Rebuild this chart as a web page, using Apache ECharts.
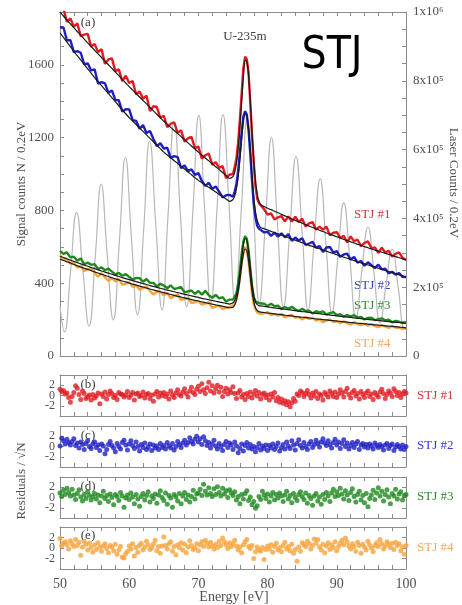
<!DOCTYPE html>
<html><head><meta charset="utf-8">
<script src="https://cdn.jsdelivr.net/npm/echarts@6/dist/echarts.min.js"></script>
<style>html,body{margin:0;padding:0;background:#fff}#c{width:462px;height:605px}</style>
</head><body><div id="c"></div>
<script>
// ---------- DATA ----------
function range(a,b,s){const r=[];for(let i=0;a+i*s<=b+1e-9;i++)r.push(+(a+i*s).toFixed(3));return r;}
// energy grid of the signal spectra (eV): 0.5 eV steps, 0.25 eV over the peak
const energy = range(50,74.5,0.5).concat(range(75,79,0.25), range(79.5,100,0.5));
// energy grid of the residual points (eV)
const residualEnergy = range(50,100,0.25);

// STJ #1 (red) measured counts and fit
const stj1Data = [1905,1908,1836,1855,1809,1828,1757,1766,1770,1700,1715,1670,1685,1605,1630,1635,1565,1575,1510,1540,1500,1511,1437,1453,1414,1430,1346,1372,1368,1309,1320,1258,1276,1284,1227,1240,1178,1196,1204,1142,1150,1084,1103,1112,1051,1065,1034,1043,977,996,
 1000,1040,1085,1175,1300,1440,1580,1645,1630,1555,1390,1215,1060,935,865,840,845,
 806,777,784,750,762,768,740,767,738,765,737,754,712,729,736,694,711,694,711,664,677,680,648,661,624,657,631,639,603,621,630,593,597,566,595,569,578,547,561,570,539,528];
const stj1Fit = [1890,1868,1846,1825,1804,1783,1762,1741,1720,1700,1680,1660,1640,1620,1600,1580,1560,1540,1520,1500,1480,1461,1442,1423,1404,1385,1366,1347,1328,1309,1290,1273,1256,1239,1222,1205,1188,1171,1154,1137,1120,1104,1088,1072,1056,1040,1024,1008,992,976,
 985,1010,1060,1140,1260,1400,1540,1625,1620,1540,1400,1230,1080,960,890,850,832,
 821,812,804,795,787,778,770,762,753,745,737,729,722,714,706,699,691,684,676,669,662,655,648,641,634,627,621,614,608,601,595,588,582,576,570,564,558,552,546,540,534,528];

// STJ #2 (blue)
const stj2Data = [1806,1805,1735,1735,1670,1675,1666,1602,1608,1569,1575,1497,1505,1498,1446,1459,1407,1405,1343,1356,1355,1296,1292,1248,1269,1225,1236,1192,1153,1169,1140,1144,1089,1098,1093,1032,1047,1016,1026,995,1005,962,934,952,919,931,903,871,883,885,
 875,905,945,1020,1120,1230,1315,1345,1325,1240,1110,965,840,760,715,700,690,
 679,682,660,678,656,674,652,670,633,651,634,647,610,618,627,595,604,572,596,599,568,576,545,558,562,530,544,513,522,496,515,499,483,502,476,480,454,463,447,456,435,434];
const stj2Fit = [1776,1750,1725,1700,1675,1650,1626,1602,1578,1554,1530,1507,1485,1463,1441,1419,1397,1375,1353,1331,1310,1291,1272,1253,1234,1215,1196,1177,1158,1139,1120,1104,1089,1073,1058,1042,1027,1011,996,980,965,952,939,927,914,901,888,876,863,850,
 860,880,920,985,1080,1190,1290,1330,1320,1250,1130,990,870,790,745,720,706,
 699,692,685,678,671,664,657,650,643,636,629,622,615,608,602,595,589,582,576,569,563,556,550,543,537,530,524,518,512,506,500,494,488,482,476,470,464,458,452,446,440,434];

// STJ #3 (green)
const stj3Data = [578,561,569,542,545,523,536,504,513,501,505,478,487,471,480,464,448,457,441,450,435,419,429,428,408,423,402,402,382,397,387,372,388,368,373,379,349,355,360,341,357,337,358,334,320,336,317,323,299,310,
 310,318,345,400,475,560,630,658,645,580,480,385,325,300,295,290,285,
 287,275,287,274,277,259,269,259,270,257,247,259,247,249,234,246,238,245,229,235,241,225,230,216,224,218,224,211,215,201,209,211,197,203,207,195,199,185,193,188,182,182];
const stj3Fit = [548,541,534,527,520,513,506,499,493,486,480,473,467,461,455,449,443,437,431,425,420,414,409,403,398,393,387,382,377,372,367,362,358,353,348,344,339,335,330,326,322,317,313,309,305,301,297,293,289,285,
 292,305,335,385,455,540,610,645,635,575,485,395,330,295,282,277,275,
 272,270,267,264,262,259,257,254,252,249,247,244,242,239,237,234,232,230,227,225,223,220,218,216,214,212,209,207,205,203,201,199,197,195,193,191,189,187,185,184,182,180];

// STJ #4 (orange)
const stj4Data = [553,530,533,506,513,486,494,467,476,479,457,436,454,433,412,430,409,423,392,397,406,380,390,364,374,383,358,338,353,353,333,348,318,328,338,309,314,320,290,296,302,282,288,294,265,271,277,258,264,270,
 275,290,315,362,430,510,575,600,585,520,430,345,285,255,240,236,232,
 234,241,224,231,221,231,212,220,226,209,215,201,214,203,210,194,202,186,195,201,186,192,180,190,180,172,186,175,169,177,167,176,165,158,168,162,154,165,155,156,149,151];
const stj4Fit = [533,525,518,511,503,496,489,482,476,469,462,456,449,443,437,430,424,418,412,407,401,395,390,384,379,373,368,363,358,353,348,343,338,333,328,324,319,315,310,306,302,297,293,289,285,281,277,273,269,265,
 268,280,307,352,417,495,558,588,578,522,440,358,298,265,250,244,241,
 239,236,234,231,229,227,224,222,220,217,215,213,211,209,206,204,202,200,198,196,194,192,190,188,186,184,182,180,179,177,175,173,171,170,168,166,164,163,161,159,157,155];

// Laser counts (right axis): read at peaks, troughs and half-way points
const laserEnergy = [50,50.65,51.5,52.4,53.3,54.2,55.1,55.95,56.8,57.7,58.6,59.45,60.3,61.2,62.1,62.95,63.85,64.75,65.6,66.5,67.4,68.3,69.2,70.05,70.9,71.8,72.7,73.55,74.45,75.3,76.2,77.05,77.95,78.8,79.7,80.55,81.4,82.3,83.2,84.1,85.0,85.85,86.7,87.6,88.45,89.3,90.15,91.0,91.9,92.75,93.6,94.5,95.4,96.25,97.1,98.0,98.9,99.75,100];
const laserCounts = [145000,70000,240000,417000,250000,87000,290000,500000,300000,105000,340000,577000,350000,120000,370000,625000,380000,134000,405000,680000,410000,143000,420000,700000,428000,155000,430000,702000,430000,160000,425000,690000,422000,155000,395000,635000,390000,143000,360000,580000,357000,134000,325000,515000,320000,125000,285000,445000,278000,110000,243000,375000,236000,96000,203000,310000,195000,80000,82000];

// Residuals / sqrt(N)
const res1 = [1.2,0.8,1.0,0.3,0.5,-0.4,-1.3,-0.2,0.6,1.9,1.4,0.2,-0.8,0.9,0.4,-0.6,-0.3,0.1,-0.9,0.2,
 -0.5,-0.1,0.5,-1.6,0.3,-0.2,0.7,-0.7,0.2,0.9,0.4,-0.4,0.0,-0.8,0.6,0.3,0.2,-0.3,0.1,0.8,
 -0.4,0.1,0.6,-0.9,0.3,0.5,-0.2,0.0,0.7,-0.5,0.2,0.4,-0.6,0.1,-1.1,0.3,0.8,-0.3,0.5,0.0,
 0.6,-0.2,0.3,-0.7,0.9,0.1,-0.4,0.5,1.1,0.2,-0.1,0.7,1.3,0.4,-0.3,0.9,1.6,0.6,0.2,1.2,
 1.8,0.8,2.3,1.1,0.4,1.5,2.6,0.9,1.9,0.5,1.3,2.0,0.7,1.6,-0.2,0.8,1.4,0.3,1.1,0.6,
 1.7,0.4,-0.6,0.5,1.0,-0.3,0.2,-0.8,0.4,-0.2,0.7,-0.5,0.3,1.0,-0.1,0.6,-0.7,0.2,0.5,-0.4,
 0.1,-0.9,0.3,-0.3,0.6,-1.0,-0.4,-1.3,-0.7,-1.5,-1.0,-1.8,-1.2,-2.2,-1.4,-0.6,-1.1,0.3,0.0,0.9,
 0.6,-0.2,0.4,1.0,0.2,-0.5,0.5,-0.1,0.8,-0.6,0.3,0.0,-0.9,0.6,0.2,-0.3,0.9,0.4,-0.2,0.7,
 -0.4,0.3,1.1,0.5,-0.3,0.8,1.4,0.2,-0.5,0.6,1.0,-0.1,0.4,-0.7,0.8,0.2,-0.4,0.5,0.9,-0.2,
 0.3,-0.8,0.6,0.1,-0.3,0.7,1.2,0.4,-0.6,0.2,0.9,0.5,-0.2,1.3,0.8,0.0,0.6,-0.4,0.3,0.8,0.5];
const res2 = [0.1,1.6,1.1,0.5,1.4,0.8,0.3,1.0,1.5,0.2,0.7,-0.3,0.9,0.4,-0.6,0.6,1.1,0.0,-0.4,0.5,
 0.9,-0.2,0.3,-0.8,0.5,0.1,-1.4,-0.6,0.4,1.0,0.2,-0.3,-1.0,0.6,0.0,-0.5,0.8,1.2,0.3,-0.7,
 0.5,1.1,0.2,-0.4,0.9,0.0,-0.9,0.4,-0.2,0.7,-0.6,-0.1,0.5,-0.8,0.3,-0.3,0.1,-0.6,0.6,-0.2,
 0.2,-0.5,0.8,0.1,-0.3,0.6,-0.7,0.0,1.0,0.4,-0.2,0.7,1.2,0.3,0.8,1.7,1.0,0.5,1.4,2.0,
 0.9,1.5,0.4,1.9,1.1,0.2,0.8,-0.3,0.5,1.2,0.1,-0.5,0.6,0.0,-0.8,0.4,1.0,-0.2,0.7,0.3,
 -0.6,0.9,0.1,-1.2,-0.4,0.5,-0.9,0.2,0.8,-0.3,0.4,-0.5,0.0,-1.0,-0.2,0.6,-0.7,0.1,-0.4,0.3,
 -0.8,0.2,-0.3,0.5,-0.6,0.0,0.7,-0.9,-0.2,0.4,-0.5,0.9,0.1,-0.4,1.1,0.3,-0.7,0.6,1.3,0.2,
 -0.3,0.8,0.0,-0.6,0.5,1.0,-0.2,0.4,1.2,0.6,-0.1,0.9,1.5,0.7,0.2,1.1,0.4,-0.3,0.8,1.4,
 0.3,0.9,-0.4,0.6,1.3,0.0,0.7,-0.5,0.2,0.8,-0.2,0.5,1.0,-0.6,0.3,0.6,-0.1,0.4,-0.3,0.5,
 0.1,-0.5,0.7,0.2,-0.2,0.4,0.0,-0.7,0.3,0.6,-0.4,0.2,0.5,-0.8,-0.1,0.4,0.0,-0.5,0.3,-0.6,0.0];
const res3 = [0.9,0.2,1.4,0.6,1.8,1.0,0.3,1.6,0.5,-0.4,0.8,1.5,0.1,-0.7,0.6,-0.2,1.1,0.4,-0.5,0.2,
 0.8,-0.3,0.5,-1.0,0.3,1.2,-0.2,0.4,-0.8,0.7,0.0,-1.4,0.6,0.2,-0.6,1.0,0.3,-1.9,-0.1,0.5,
 -0.4,0.9,0.1,-1.2,0.6,-0.3,-1.7,0.2,0.8,-0.5,0.4,1.1,-0.9,0.3,-0.2,0.7,-1.1,0.5,1.3,0.0,
 -0.6,0.9,-1.3,0.4,-0.1,-1.9,0.6,0.1,-0.7,0.8,-1.2,0.3,1.0,-0.4,0.5,-0.9,0.2,1.4,-0.3,0.7,
 0.9,1.6,0.4,2.6,1.2,0.5,1.9,0.8,0.2,1.7,0.6,2.1,1.0,0.3,1.8,0.7,1.3,0.0,1.5,0.9,
 0.4,1.1,-0.5,0.2,-1.2,0.6,-0.3,0.8,1.3,-0.6,0.1,-1.4,-0.8,-2.1,-1.6,0.2,-0.4,1.2,0.5,-0.2,
 0.7,-0.9,0.3,1.0,-0.5,0.6,-0.1,0.9,0.3,-0.8,0.5,1.2,-0.3,0.4,-1.0,0.8,0.0,-0.6,0.6,1.1,
 0.2,-0.4,0.9,-1.1,0.4,-0.2,-1.5,0.3,0.8,-0.7,0.1,-1.3,0.6,-0.4,1.0,0.3,-0.8,0.9,1.6,0.2,
 1.1,0.4,1.8,0.7,-0.3,1.3,0.5,-0.6,1.0,1.7,0.2,-0.9,0.6,1.2,-0.5,0.4,-1.0,0.8,-1.8,-0.2,
 0.5,1.4,-0.4,0.9,1.9,0.3,1.2,-0.7,0.6,1.5,0.1,-1.2,0.8,0.3,1.6,-0.3,0.7,1.1,-0.5,0.4,0.6];
const res4 = [1.8,0.4,0.9,1.2,0.6,-0.2,1.4,0.8,0.3,1.6,0.5,1.1,-1.4,0.2,1.3,0.7,-0.4,0.9,0.1,-0.8,
 0.6,-0.3,1.0,0.2,-0.6,0.4,0.8,-0.1,-0.9,0.5,0.2,-0.5,0.7,-1.2,-0.4,0.3,-1.7,-1.9,-1.1,-0.6,
 0.4,-0.2,0.8,-1.5,0.1,-0.8,0.5,0.9,-0.4,0.2,1.3,0.6,-0.3,0.0,0.7,1.5,-0.5,0.3,-1.0,0.4,
 2.1,0.5,-0.2,0.8,1.2,-0.6,0.3,-1.3,0.6,0.1,1.0,-0.4,0.7,-0.9,0.2,1.4,0.5,-0.3,0.0,0.8,
 -0.5,0.6,1.2,0.3,1.5,0.9,0.2,1.1,0.4,-0.2,0.7,0.1,1.3,0.5,1.9,1.2,0.6,-0.1,1.0,0.3,
 0.8,1.5,0.4,-0.4,0.2,-0.9,0.6,1.2,1.6,0.3,-0.1,0.5,-2.0,-0.7,0.2,-0.4,-0.6,0.1,-2.2,-0.3,
 0.4,-0.2,0.6,-0.8,0.3,0.9,-0.4,0.1,-0.7,0.5,1.1,-0.2,0.3,-0.5,0.7,-1.0,-0.3,-2.5,0.2,-0.6,
 1.0,0.6,0.3,1.3,0.8,-0.2,0.5,1.7,0.9,1.6,0.2,-0.4,0.7,-0.9,0.4,1.0,-0.3,0.6,0.1,1.2,
 -0.5,0.3,0.9,1.5,0.6,1.9,1.2,0.4,-0.2,0.8,0.3,-0.6,1.1,0.5,-1.0,0.7,0.2,-0.4,1.3,0.6,
 0.0,-0.7,0.5,1.0,0.3,1.6,0.8,-0.2,0.4,1.2,0.7,0.1,0.9,-0.3,1.1,0.5,0.8,-0.5,0.2,-1.2,0.5];

const detectorNames = ['STJ #1','STJ #2','STJ #3','STJ #4'];
const panelLetters = ['(b)','(c)','(d)','(e)'];
const leftTicks = [0,400,800,1200,1600];
const laserTickLabels = {0:'0',200000:'2x10⁵',400000:'4x10⁵',600000:'6x10⁵',800000:'8x10⁵',1000000:'1x10⁶'};
const residualTickLabels = [-2,0,2];
const energyTickLabels = [50,60,70,80,90,100];

// ---------- STYLE ----------
const SERIF = "'Liberation Serif','DejaVu Serif',serif";
const AX = '#8c8c8c';
const TXT = '#505050';
const COLORS = ['#e01b22','#1f1fc4','#1e8a1e','#f7a33a'];
const LABEL_COLORS = ['#d23a3a','#3a3ad0','#2e8c2e','#f4a858'];
const zip = (xs, ys) => xs.map((x,i)=>[x, ys[i]]);

const chart = echarts.init(document.getElementById('c'), null, {renderer:'canvas'});

const grids = [
  {left:60, right:56, top:12, height:344},
  {left:60, right:56, top:375, height:41},
  {left:60, right:56, top:426, height:41},
  {left:60, right:56, top:477, height:41},
  {left:60, right:56, top:527, height:42}
].map(g=>Object.assign({outerBoundsMode:'none', containLabel:false}, g));

const xAxes = [], yAxes = [];
grids.forEach((g,i)=>{
  ['bottom','top'].forEach(pos=>{
    xAxes.push({type:'value', gridIndex:i, position:pos, min:50, max:100, interval:2,
      axisLine:{show:true, onZero:false, lineStyle:{color:AX}},
      axisTick:{show:true, inside:true, length:4, lineStyle:{color:AX}},
      axisLabel:{show: (i===4 && pos==='bottom'), color:TXT, fontFamily:SERIF, fontSize:14, margin:8,
        formatter: v => energyTickLabels.includes(v) ? String(v) : ''},
      splitLine:{show:false}});
  });
});
// main panel y axes
yAxes.push({type:'value', gridIndex:0, position:'left', min:0, max:1890, interval:100,
  axisLine:{show:true, onZero:false, lineStyle:{color:AX}},
  axisTick:{show:true, inside:true, length:4, lineStyle:{color:AX}},
  axisLabel:{color:TXT, fontFamily:SERIF, fontSize:13, margin:6, formatter: v => leftTicks.includes(v) ? String(v) : ''},
  splitLine:{show:false}});
yAxes.push({type:'value', gridIndex:0, position:'right', min:0, max:1000000, interval:50000,
  axisLine:{show:true, onZero:false, lineStyle:{color:AX}},
  axisTick:{show:true, inside:true, length:4, lineStyle:{color:AX}},
  axisLabel:{color:TXT, fontFamily:SERIF, fontSize:13, margin:7, formatter: v => laserTickLabels[v] || ''},
  splitLine:{show:false}});
for(let k=1;k<=4;k++){
  yAxes.push({type:'value', gridIndex:k, position:'left', min:-4, max:4, interval:2,
    axisLine:{show:true, onZero:false, lineStyle:{color:AX}},
    axisTick:{show:true, inside:true, length:4, lineStyle:{color:AX}},
    axisLabel:{color:TXT, fontFamily:SERIF, fontSize:12, lineHeight:10, margin:5, hideOverlap:false,
      showMinLabel:true, showMaxLabel:true,
      formatter: v => residualTickLabels.includes(v) ? String(v) : ''},
    splitLine:{show:false}});
  yAxes.push({type:'value', gridIndex:k, position:'right', min:-4, max:4, interval:2,
    axisLine:{show:true, onZero:false, lineStyle:{color:AX}},
    axisTick:{show:true, inside:true, length:4, lineStyle:{color:AX}},
    axisLabel:{show:false}, splitLine:{show:false}});
}

const dataSets = [stj1Data, stj2Data, stj3Data, stj4Data];
const fitSets = [stj1Fit, stj2Fit, stj3Fit, stj4Fit];
const resSets = [res1, res2, res3, res4];

const series = [];
series.push({type:'line', name:'laser', xAxisIndex:0, yAxisIndex:1, data: zip(laserEnergy, laserCounts),
  smooth:0.5, symbol:'none', lineStyle:{color:'#b8b8b8', width:1.2}, z:1, silent:true});
// draw order: red, blue, orange, green
[0,1,3,2].forEach(d=>{
  series.push({type:'line', xAxisIndex:0, yAxisIndex:0, data: zip(energy, dataSets[d]),
    symbol:'none', lineStyle:{color:COLORS[d], width:2.4}, z:2, silent:true});
});
[0,1,2,3].forEach(d=>{
  series.push({type:'line', xAxisIndex:0, yAxisIndex:0, data: zip(energy, fitSets[d]),
    symbol:'none', smooth:0.3, lineStyle:{color:'#1a1a1a', width:1.2}, z:3, silent:true});
});
resSets.forEach((r,k)=>{
  series.push({type:'scatter', xAxisIndex:2*(k+1), yAxisIndex:2*(k+1), data: zip(residualEnergy, r),
    symbol:'circle', symbolSize:5, itemStyle:{color:COLORS[k]}, z:2, silent:true});
});

const txt = (x,y,text,extra) => ({type:'text', x, y, silent:true,
  style:Object.assign({text, fill:TXT, font:`13px ${SERIF}`, align:'center', verticalAlign:'middle',
    textAlign:'center', textVerticalAlign:'middle'}, extra||{})});

const graphic = [
  txt(88,23,'(a)',{fill:'#404040'}),
  txt(245,37,'U-235m',{fill:'#404040'}),
  txt(332,57,'STJ',{fill:'#000', font:"44px 'Liberation Sans Narrow','DejaVu Sans Condensed','Liberation Sans', sans-serif"}),
  Object.assign(txt(22,184,'Signal counts N / 0.2eV'),{rotation:Math.PI/2}),
  Object.assign(txt(453,183,'Laser Counts / 0.2eV'),{rotation:-Math.PI/2}),
  Object.assign(txt(22,481,'Residuals / √N'),{rotation:Math.PI/2}),
  txt(234,597,'Energy [eV]',{font:`14px ${SERIF}`}),
  txt(354,215,detectorNames[0],{fill:LABEL_COLORS[0], align:'left', textAlign:'left'}),
  txt(354,286,detectorNames[1],{fill:LABEL_COLORS[1], align:'left', textAlign:'left'}),
  txt(354,306,detectorNames[2],{fill:LABEL_COLORS[2], align:'left', textAlign:'left'}),
  txt(354,344,detectorNames[3],{fill:LABEL_COLORS[3], align:'left', textAlign:'left'})
];
const panelY = [396,446,497,548];
const letterY = [385,436,487,536];
for(let k=0;k<4;k++){
  graphic.push(txt(417,panelY[k],detectorNames[k],{fill:LABEL_COLORS[k], align:'left', textAlign:'left'}));
  graphic.push(txt(88,letterY[k],panelLetters[k],{fill:'#404040'}));
}

chart.setOption({
  animation:false,
  backgroundColor:'#fff',
  grid:grids, xAxis:xAxes, yAxis:yAxes, series, graphic
});
</script></body></html>
